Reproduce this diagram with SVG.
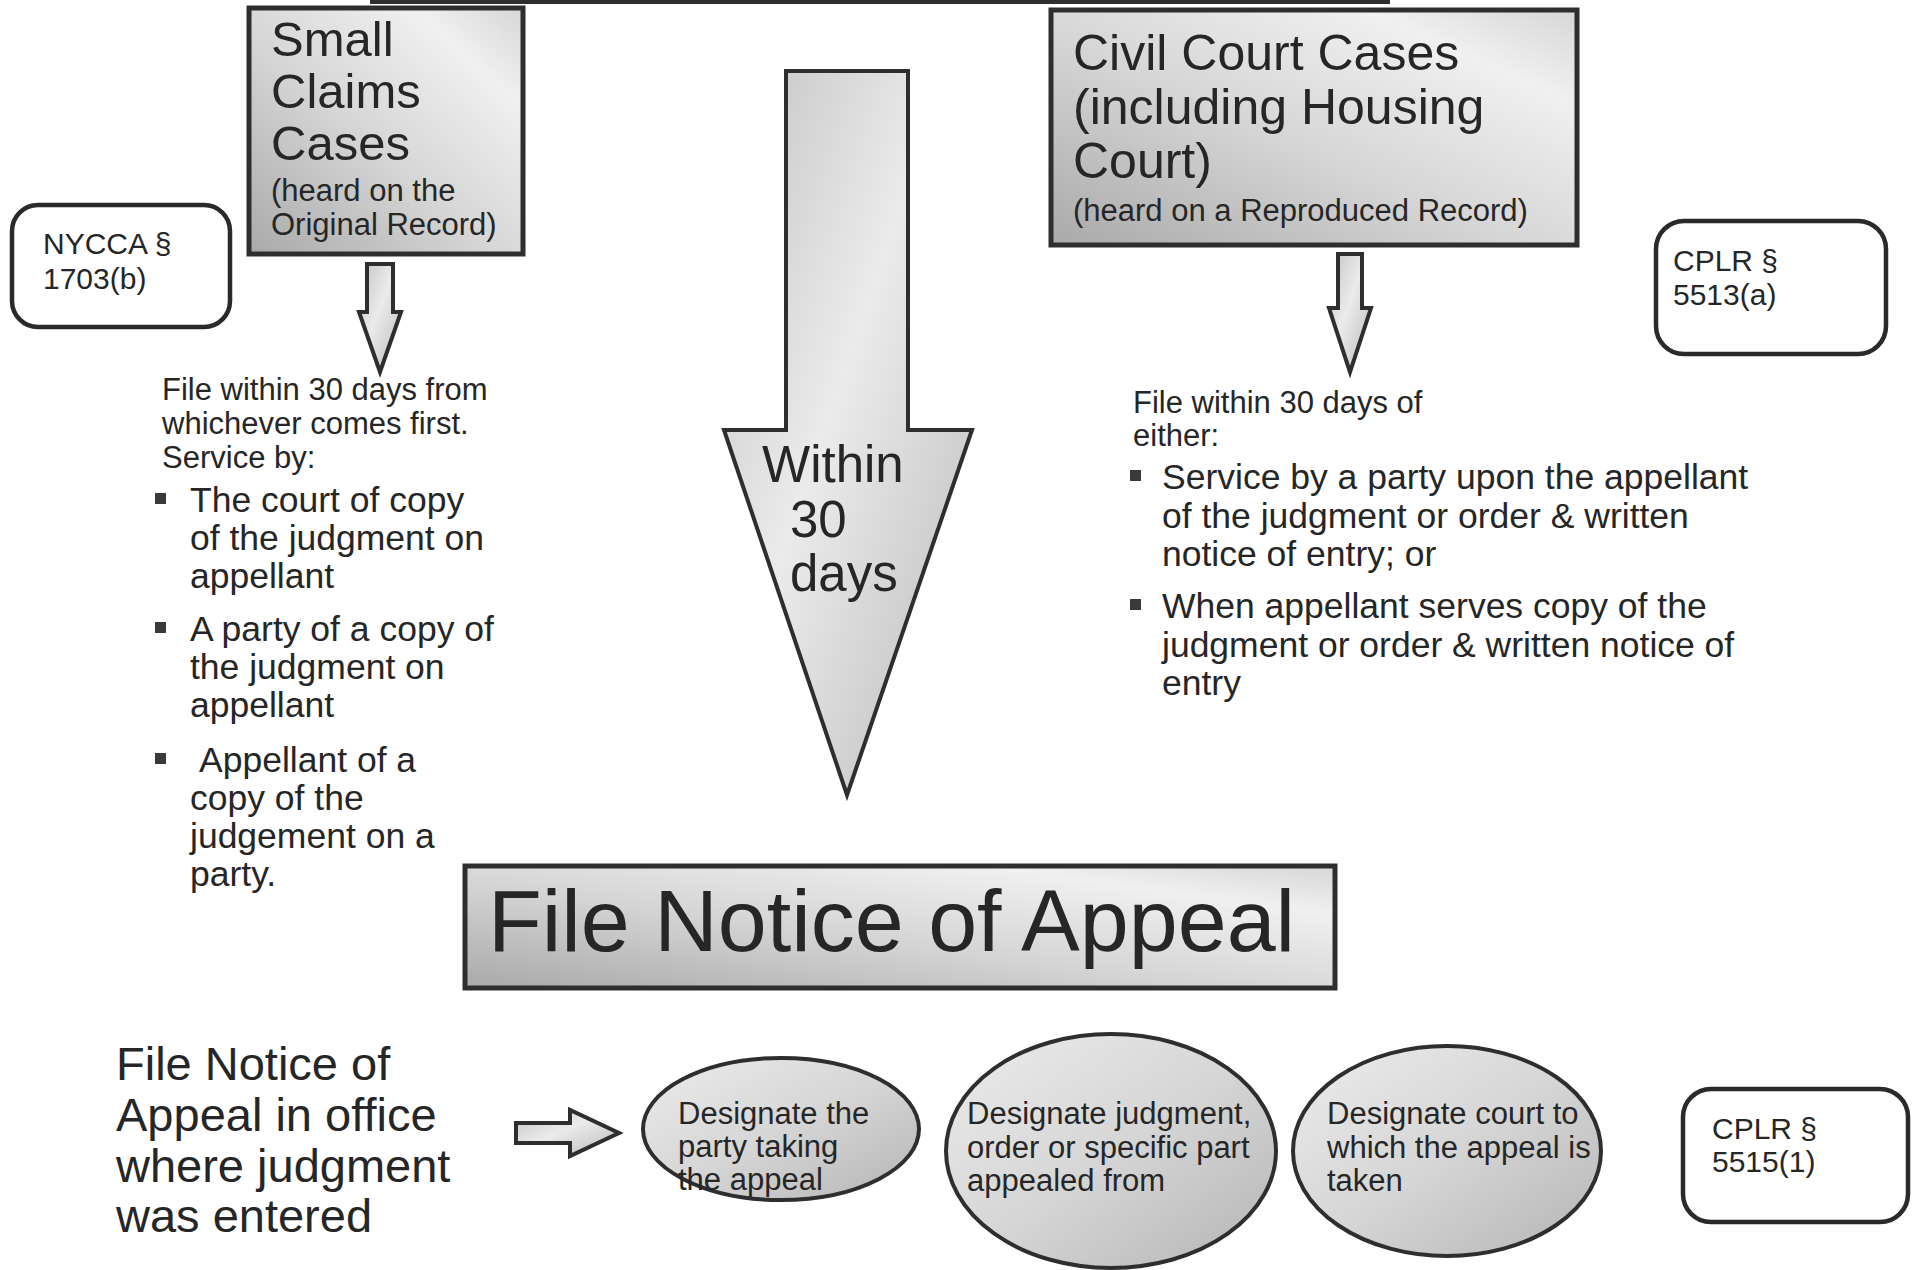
<svg xmlns="http://www.w3.org/2000/svg" width="1912" height="1270" viewBox="0 0 1912 1270">
<defs>
<linearGradient id="metal" x1="0" y1="1" x2="1" y2="0">
<stop offset="0" stop-color="#a9a9a9"/>
<stop offset="0.45" stop-color="#d6d6d6"/>
<stop offset="0.8" stop-color="#f0f0f0"/>
<stop offset="1" stop-color="#d6d6d6"/>
</linearGradient>
<linearGradient id="metalV" x1="0" y1="0" x2="1" y2="1">
<stop offset="0" stop-color="#c2c2c2"/>
<stop offset="0.45" stop-color="#ebebeb"/>
<stop offset="1" stop-color="#b8b8b8"/>
</linearGradient>
<linearGradient id="metalE" x1="0" y1="0" x2="1" y2="1">
<stop offset="0" stop-color="#ececec"/>
<stop offset="0.5" stop-color="#d6d6d6"/>
<stop offset="1" stop-color="#b4b4b4"/>
</linearGradient>
</defs>
<style>
text{font-family:"Liberation Sans",Arial,sans-serif;fill:#262626}
.box{fill:url(#metal);stroke:#2e2e2e;stroke-width:5}
.ref{fill:#ffffff;stroke:#2a2a2a;stroke-width:4.5}
.arr{fill:url(#metalV);stroke:#2e2e2e;stroke-width:4;stroke-linejoin:miter}
.ell{fill:url(#metalE);stroke:#2e2e2e;stroke-width:4}
.bul{fill:#3a3a3a}
.t49{font-size:49px}
.t50{font-size:50px}
.t31{font-size:31px}
.t30{font-size:30px}
.t35{font-size:35.5px}
.t51{font-size:51px}
.t47{font-size:47px}
.t87{font-size:88px}
</style>
<rect width="1912" height="1270" fill="#ffffff"/>

<g id="top-edge">
<line x1="370" y1="2" x2="1390" y2="2" stroke="#2e2e2e" stroke-width="4"/>
</g>

<g id="small-claims">
<rect class="box" x="249" y="8" width="274" height="246"/>
<text class="t49" x="271" y="56">Small</text>
<text class="t49" x="271" y="108">Claims</text>
<text class="t49" x="271" y="160">Cases</text>
<text class="t31" x="271" y="201">(heard on the</text>
<text class="t31" x="271" y="235">Original Record)</text>
</g>

<g id="nycca">
<rect class="ref" x="12" y="205" width="218" height="122" rx="26"/>
<text class="t30" x="43" y="254">NYCCA §</text>
<text class="t30" x="43" y="289">1703(b)</text>
</g>

<g id="civil-court">
<rect class="box" x="1051" y="10" width="526" height="235"/>
<text class="t50" x="1073" y="70">Civil Court Cases</text>
<text class="t50" x="1073" y="124">(including Housing</text>
<text class="t50" x="1073" y="178">Court)</text>
<text class="t31" x="1073" y="221">(heard on a Reproduced Record)</text>
</g>

<g id="cplr-5513">
<rect class="ref" x="1656" y="221" width="230" height="133" rx="28"/>
<text class="t30" x="1673" y="271">CPLR §</text>
<text class="t30" x="1673" y="305">5513(a)</text>
</g>

<g id="within-30-days">
<polygon class="arr" points="786,71 908,71 908,430 972,430 847,795 724,430 786,430"/>
<text class="t51" x="762" y="482">Within</text>
<text class="t51" x="790" y="537">30</text>
<text class="t51" x="790" y="591">days</text>
</g>

<g id="small-claims-rules">
<text class="t31" x="162" y="400">File within 30 days from</text>
<text class="t31" x="162" y="434">whichever comes first.</text>
<text class="t31" x="162" y="468">Service by:</text>
<rect class="bul" x="155" y="493" width="11" height="11"/>
<text class="t35" x="190" y="512">The court of copy</text>
<text class="t35" x="190" y="550">of the judgment on</text>
<text class="t35" x="190" y="588">appellant</text>
<rect class="bul" x="155" y="622" width="11" height="11"/>
<text class="t35" x="190" y="641">A party of a copy of</text>
<text class="t35" x="190" y="679">the judgment on</text>
<text class="t35" x="190" y="717">appellant</text>
<rect class="bul" x="155" y="753" width="11" height="11"/>
<text class="t35" x="199" y="772">Appellant of a</text>
<text class="t35" x="190" y="810">copy of the</text>
<text class="t35" x="190" y="848">judgement on a</text>
<text class="t35" x="190" y="886">party.</text>
</g>

<g id="civil-court-rules">
<text class="t31" x="1133" y="413">File within 30 days of</text>
<text class="t31" x="1133" y="446">either:</text>
<rect class="bul" x="1130" y="470" width="11" height="11"/>
<text class="t35" x="1162" y="489">Service by a party upon the appellant</text>
<text class="t35" x="1162" y="528">of the judgment or order &amp; written</text>
<text class="t35" x="1162" y="566">notice of entry; or</text>
<rect class="bul" x="1130" y="599" width="11" height="11"/>
<text class="t35" x="1162" y="618">When appellant serves copy of the</text>
<text class="t35" x="1162" y="657">judgment or order &amp; written notice of</text>
<text class="t35" x="1162" y="695">entry</text>
</g>

<g id="file-notice">
<rect class="box" x="465" y="866" width="870" height="122"/>
<text class="t87" x="488" y="951">File Notice of Appeal</text>
</g>

<g id="file-in-office">
<text class="t47" x="116" y="1080">File Notice of</text>
<text class="t47" x="116" y="1131">Appeal in office</text>
<text class="t47" x="116" y="1182">where judgment</text>
<text class="t47" x="116" y="1232">was entered</text>
</g>

<g id="connectors">
<polygon class="arr" points="367,264 393,264 393,312 401,312 380,372 359,312 367,312"/>
<polygon class="arr" points="1338,254 1362,254 1362,308 1371,308 1350,372 1329,308 1338,308"/>
<polygon class="arr" points="516,1123 570,1123 570,1110 619,1133 570,1156 570,1143 516,1143"/>
</g>

<g id="designate-party">
<ellipse class="ell" cx="781" cy="1129" rx="138" ry="71"/>
<text class="t31" x="678" y="1124">Designate the</text>
<text class="t31" x="678" y="1157">party taking</text>
<text class="t31" x="678" y="1190">the appeal</text>
</g>

<g id="designate-judgment">
<ellipse class="ell" cx="1111" cy="1151" rx="165" ry="117"/>
<text class="t31" x="967" y="1124">Designate judgment,</text>
<text class="t31" x="967" y="1158">order or specific part</text>
<text class="t31" x="967" y="1191">appealed from</text>
</g>

<g id="designate-court">
<ellipse class="ell" cx="1447" cy="1151" rx="154" ry="105"/>
<text class="t31" x="1327" y="1124">Designate court to</text>
<text class="t31" x="1327" y="1158">which the appeal is</text>
<text class="t31" x="1327" y="1191">taken</text>
</g>

<g id="cplr-5515">
<rect class="ref" x="1683" y="1089" width="225" height="133" rx="28"/>
<text class="t30" x="1712" y="1139">CPLR §</text>
<text class="t30" x="1712" y="1172">5515(1)</text>
</g>
</svg>
